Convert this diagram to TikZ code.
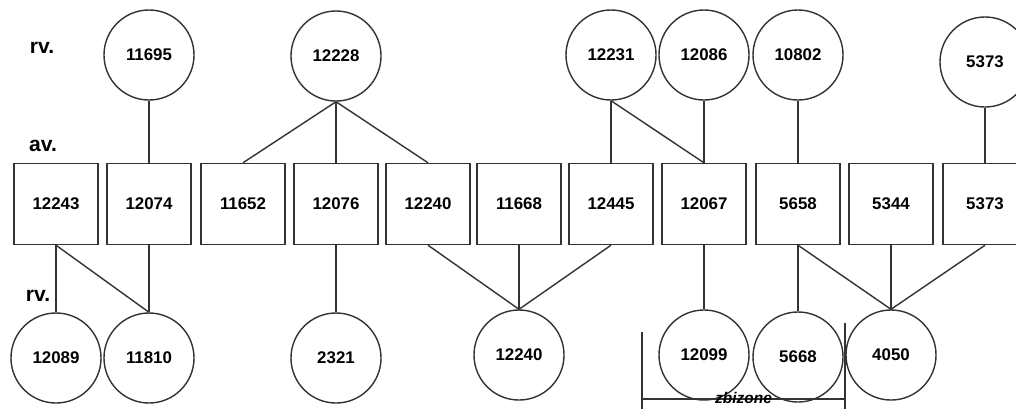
\documentclass[tikz,border=0pt]{standalone}
\usepackage{fontspec}
\setmainfont{Liberation Sans}
\tikzset{
    parent/.style={circle, draw=black!80, line width=1pt, minimum size=2.25cm, inner sep=0pt, font=\fontsize{12}{14}\selectfont\bfseries},
    lot/.style={rectangle, draw=black!80, line width=1pt, minimum width=2.1cm, minimum height=2.025cm, inner sep=0pt, font=\fontsize{12}{14}\selectfont\bfseries},
    tag/.style={font=\fontsize{15}{18}\selectfont\bfseries},
    link/.style={draw=black!80, line width=1pt}
}
\begin{document}
\begin{tikzpicture}[x=0.025cm, y=-0.025cm]
    \useasboundingbox (0,0) rectangle (1016,409);
    % Row labels
    \node[tag] (lrv1) at (42,48) {rv.};
    \node[tag] (lav) at (43,146) {av.};
    \node[tag] (lrv2) at (38,296) {rv.};
    % Upper circles
    \node[parent] (up11695) at (149,55) {11695};
    \node[parent] (up12228) at (336,56) {12228};
    \node[parent] (up12231) at (611,55) {12231};
    \node[parent] (up12086) at (704,55) {12086};
    \node[parent] (up10802) at (798,55) {10802};
    \node[parent] (up5373) at (985,62) {5373};
    % Boxes
    \node[lot] (av12243) at (56,204) {12243};
    \node[lot] (av12074) at (149,204) {12074};
    \node[lot] (av11652) at (243,204) {11652};
    \node[lot] (av12076) at (336,204) {12076};
    \node[lot] (av12240) at (428,204) {12240};
    \node[lot] (av11668) at (519,204) {11668};
    \node[lot] (av12445) at (611,204) {12445};
    \node[lot] (av12067) at (704,204) {12067};
    \node[lot] (av5658) at (798,204) {5658};
    \node[lot] (av5344) at (891,204) {5344};
    \node[lot] (av5373) at (985,204) {5373};
    % Lower circles
    \node[parent] (dn12089) at (56,358) {12089};
    \node[parent] (dn11810) at (149,358) {11810};
    \node[parent] (dn2321) at (336,358) {2321};
    \node[parent] (dn12240) at (519,355) {12240};
    \node[parent] (dn12099) at (704,355) {12099};
    \node[parent] (dn5668) at (798,357) {5668};
    \node[parent] (dn4050) at (891,355) {4050};
    % Upper links
    \draw[link] (up11695.south) -- (av12074.north);
    \draw[link] (up12228.south) -- (av11652.north);
    \draw[link] (up12228.south) -- (av12076.north);
    \draw[link] (up12228.south) -- (av12240.north);
    \draw[link] (up12231.south) -- (av12445.north);
    \draw[link] (up12231.south) -- (av12067.north);
    \draw[link] (up12086.south) -- (av12067.north);
    \draw[link] (up10802.south) -- (av5658.north);
    \draw[link] (up5373.south) -- (av5373.north);
    % Lower links
    \draw[link] (av12243.south) -- (dn12089.north);
    \draw[link] (av12243.south) -- (dn11810.north);
    \draw[link] (av12074.south) -- (dn11810.north);
    \draw[link] (av12076.south) -- (dn2321.north);
    \draw[link] (av12240.south) -- (dn12240.north);
    \draw[link] (av11668.south) -- (dn12240.north);
    \draw[link] (av12445.south) -- (dn12240.north);
    \draw[link] (av12067.south) -- (dn12099.north);
    \draw[link] (av5658.south) -- (dn5668.north);
    \draw[link] (av5658.south) -- (dn4050.north);
    \draw[link] (av5344.south) -- (dn4050.north);
    \draw[link] (av5373.south) -- (dn4050.north);
    % Bracket
    \coordinate (brTL) at (642,332);
    \coordinate (brBL) at (642,409);
    \coordinate (brTR) at (845,323);
    \coordinate (brBR) at (845,409);
    \coordinate (brML) at (642,399);
    \coordinate (brMR) at (845,399);
    \draw[link] (brTL) -- (brBL);
    \draw[link] (brTR) -- (brBR);
    \draw[link] (brML) -- (brMR) node[midway, yshift=1pt, font=\fontsize{11}{12}\selectfont\bfseries\itshape, inner sep=1pt] (zone) {zbizone};
\end{tikzpicture}
\end{document}
